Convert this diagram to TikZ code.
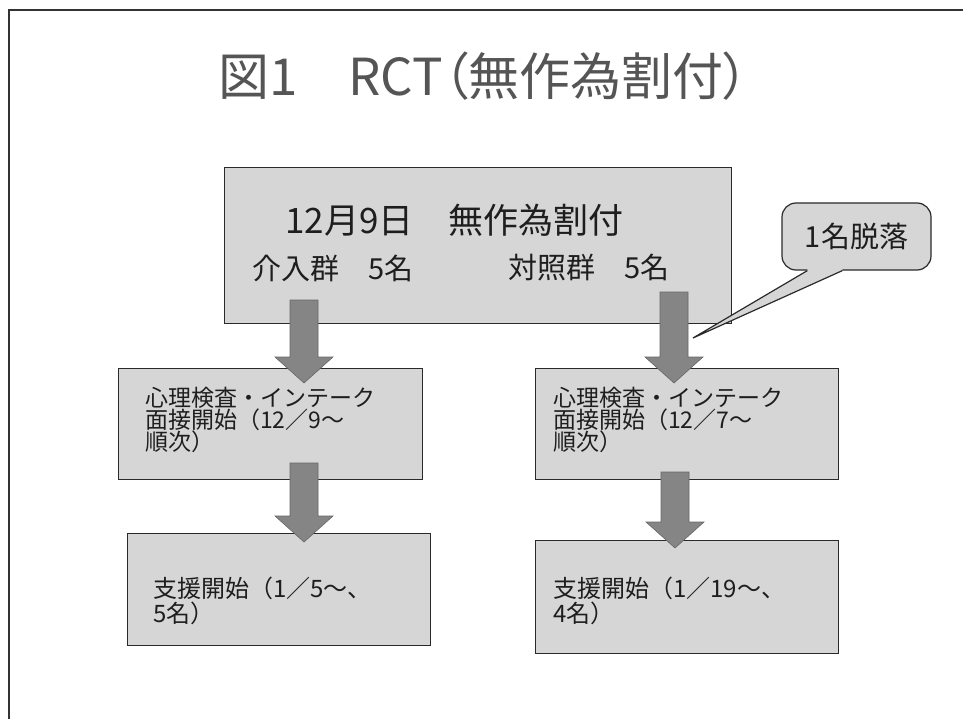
\documentclass[tikz,border=0pt]{standalone}
\usepackage{fontspec}
\setmainfont{Noto Sans CJK JP}
\newfontfamily\jpp[RawFeature=+palt]{Noto Sans CJK JP}
\usetikzlibrary{calc}
\definecolor{boxfill}{HTML}{D6D6D6}
\definecolor{boxline}{HTML}{2A2A2A}
\definecolor{arrfill}{HTML}{858585}
\definecolor{arrline}{HTML}{666666}
\definecolor{txt}{HTML}{1E1E1E}
\definecolor{titlegray}{HTML}{555555}
\definecolor{framecol}{HTML}{333333}
\newcommand\blockarrow[2]{%
  \path[arrowstyle] let \p1=(#1), \p2=(#2) in
    (\x1-14pt,\y1) -- (\x1+14pt,\y1) -- (\x1+14pt,\y2+26pt) -- (\x1+29pt,\y2+26pt)
    -- (\x1,\y2) -- (\x1-29pt,\y2+26pt) -- (\x1-14pt,\y2+26pt) -- cycle;}
\tikzset{
  flowbox/.style={draw=boxline, fill=boxfill, line width=1.3pt, rectangle, inner sep=0pt, anchor=north west},
  arrowstyle/.style={fill=arrfill, draw=arrline, line width=0.6pt},
  boxtext/.style={anchor=north west, align=left, inner sep=0pt, text=txt},
  calloutbox/.style={draw=boxline, fill=boxfill, line width=1.2pt, rounded corners=14pt, inner sep=0pt, text=txt, font=\fontsize{29}{29}\selectfont}
}
\begin{document}
\begin{tikzpicture}[x=1pt,y=-1pt]
\useasboundingbox[fill=white] (0,0) rectangle (963,719);
% frame
\draw[framecol, line width=1.5pt] (9,719) -- (9,10) -- (963,10);
% title
\node[font=\jpp\fontsize{51}{51}\selectfont, text=titlegray, inner sep=0pt] (title) at (483.5,76) {図1　RCT（無作為割付）};
% main box
\node[flowbox, minimum width=507pt, minimum height=156pt] (main) at (224,167) {};
\node[anchor=west, inner sep=0pt, text=txt, font=\fontsize{35}{35}\selectfont] (mline) at (285,220) {12月9日　無作為割付};
\node[anchor=west, inner sep=0pt, text=txt, font=\fontsize{29}{29}\selectfont] (gint) at (252,268) {介入群　5名};
\node[anchor=west, inner sep=0pt, text=txt, font=\fontsize{29}{29}\selectfont] (gctl) at (508,268) {対照群　5名};
% second row boxes
\node[flowbox, minimum width=304pt, minimum height=111pt] (l2) at (118,368) {};
\node[boxtext, font=\fontsize{23}{22}\selectfont] (l2t) at (145,387) {心理検査・インテーク\\面接開始（12／9～\\順次）};
\node[flowbox, minimum width=303pt, minimum height=111pt] (r2) at (535,368) {};
\node[boxtext, font=\fontsize{23}{22}\selectfont] (r2t) at (553,387) {心理検査・インテーク\\面接開始（12／7～\\順次）};
% third row boxes
\node[flowbox, minimum width=303pt, minimum height=112pt] (l3) at (127,533) {};
\node[boxtext, font=\fontsize{24}{25}\selectfont] (l3t) at (153,577) {支援開始（1／5～、\\5名）};
\node[flowbox, minimum width=303pt, minimum height=113pt] (r3) at (535,540) {};
\node[boxtext, font=\fontsize{24}{25}\selectfont] (r3t) at (553,577) {支援開始（1／19～、\\4名）};
% arrows
\coordinate (a1s) at (304,300); \coordinate (a1e) at (304,383);
\coordinate (a2s) at (304,463); \coordinate (a2e) at (304,542);
\coordinate (a3s) at (674,292); \coordinate (a3e) at (674,383);
\coordinate (a4s) at (675,472); \coordinate (a4e) at (675,548);
\blockarrow{a1s}{a1e}
\blockarrow{a2s}{a2e}
\blockarrow{a3s}{a3e}
\blockarrow{a4s}{a4e}
% callout
\node[calloutbox, minimum width=149pt, minimum height=67pt] (drop) at (856.5,236.5) {1名脱落};
\coordinate (droptip) at (693,338);
\coordinate (pb1) at ($(drop.south west)+(26,0)$);
\coordinate (pb2) at ($(drop.south west)+(61,0)$);
\fill[boxfill] ($(pb1)+(0,-2)$) -- (pb1) -- (droptip) -- (pb2) -- ($(pb2)+(0,-2)$) -- cycle;
\draw[boxline, line width=1.2pt, line join=miter] (pb1) -- (droptip) -- (pb2);
\end{tikzpicture}
\end{document}
